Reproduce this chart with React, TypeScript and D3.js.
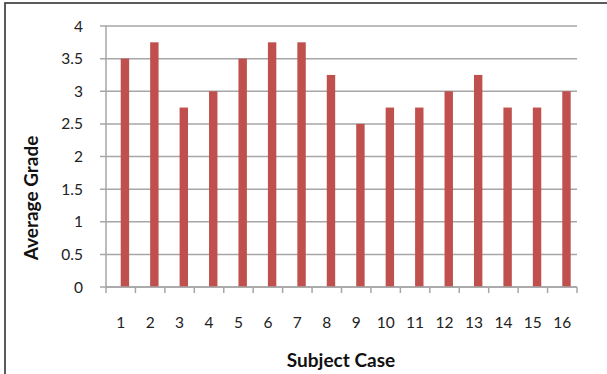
import React from "react";
import * as d3 from "d3";

const categories = ["1","2","3","4","5","6","7","8","9","10","11","12","13","14","15","16"];
const seriesHidden = [0,0,0,0,0,0,0,0,0,0,0,0,0,0,0,0];
const seriesGrade = [3.5,3.75,2.75,3,3.5,3.75,3.75,3.25,2.5,2.75,2.75,3,3.25,2.75,2.75,3];
const yTicks = [0,0.5,1,1.5,2,2.5,3,3.5,4];

const W = 607, H = 374;
const L = 106, R = 577, T = 26, B = 287;

export default function App() {
  const x = d3.scaleBand<string>().domain(categories).range([L, R]).paddingInner(0).paddingOuter(0);
  const inner = d3.scaleBand<string>().domain(["hidden","grade"]).range([0, x.bandwidth()]).paddingInner(0).paddingOuter(0.75);
  const y = d3.scaleLinear().domain([0, 4]).range([B, T]);
  const font = "Lato, 'Open Sans', sans-serif";
  const grid = "#a6a6a6";
  return (
    <svg width={W} height={H} style={{ position: "absolute", left: 0, top: 0 }}>
      <rect x={0} y={0} width={W} height={H} fill="#fff" />
      <rect x={5} y={3} width={W + 20} height={H + 20} fill="none" stroke="#333" strokeWidth={1.6} />
      {yTicks.map((t) => (
        <g key={t}>
          <line x1={L - 6} x2={R} y1={y(t)} y2={y(t)} stroke={grid} strokeWidth={1.5} />
          <text x={83} y={y(t)} dy="0.36em" textAnchor="end" fontFamily={font} fontSize={15.5} fill="#222">{t}</text>
        </g>
      ))}
      <line x1={L} x2={L} y1={T} y2={B} stroke={grid} strokeWidth={1.5} />
      {categories.map((c, i) => (
        <g key={c}>
          <rect x={(x(c) as number) + (inner("hidden") as number)} y={y(seriesHidden[i])} width={inner.bandwidth()} height={B - y(seriesHidden[i])} fill="#4f81bd" />
          <rect x={(x(c) as number) + (inner("grade") as number)} y={y(seriesGrade[i])} width={inner.bandwidth()} height={B - y(seriesGrade[i])} fill="#c0504d" />
          <text x={(x(c) as number) + x.bandwidth() / 2} y={328} textAnchor="middle" fontFamily={font} fontSize={15.5} fill="#222">{c}</text>
        </g>
      ))}
      {categories.concat(["end"]).map((c, i) => (
        <line key={"t" + i} x1={L + i * x.bandwidth()} x2={L + i * x.bandwidth()} y1={B} y2={B + 6} stroke={grid} strokeWidth={1.5} />
      ))}
      <line x1={L} x2={R} y1={B} y2={B} stroke={grid} strokeWidth={1.5} />
      <text x={341} y={367} textAnchor="middle" fontFamily={font} fontWeight="bold" fontSize={19} fill="#111">Subject Case</text>
      <text transform={`translate(38,198) rotate(-90)`} textAnchor="middle" fontFamily={font} fontWeight="bold" fontSize={19} fill="#111">Average Grade</text>
    </svg>
  );
}
